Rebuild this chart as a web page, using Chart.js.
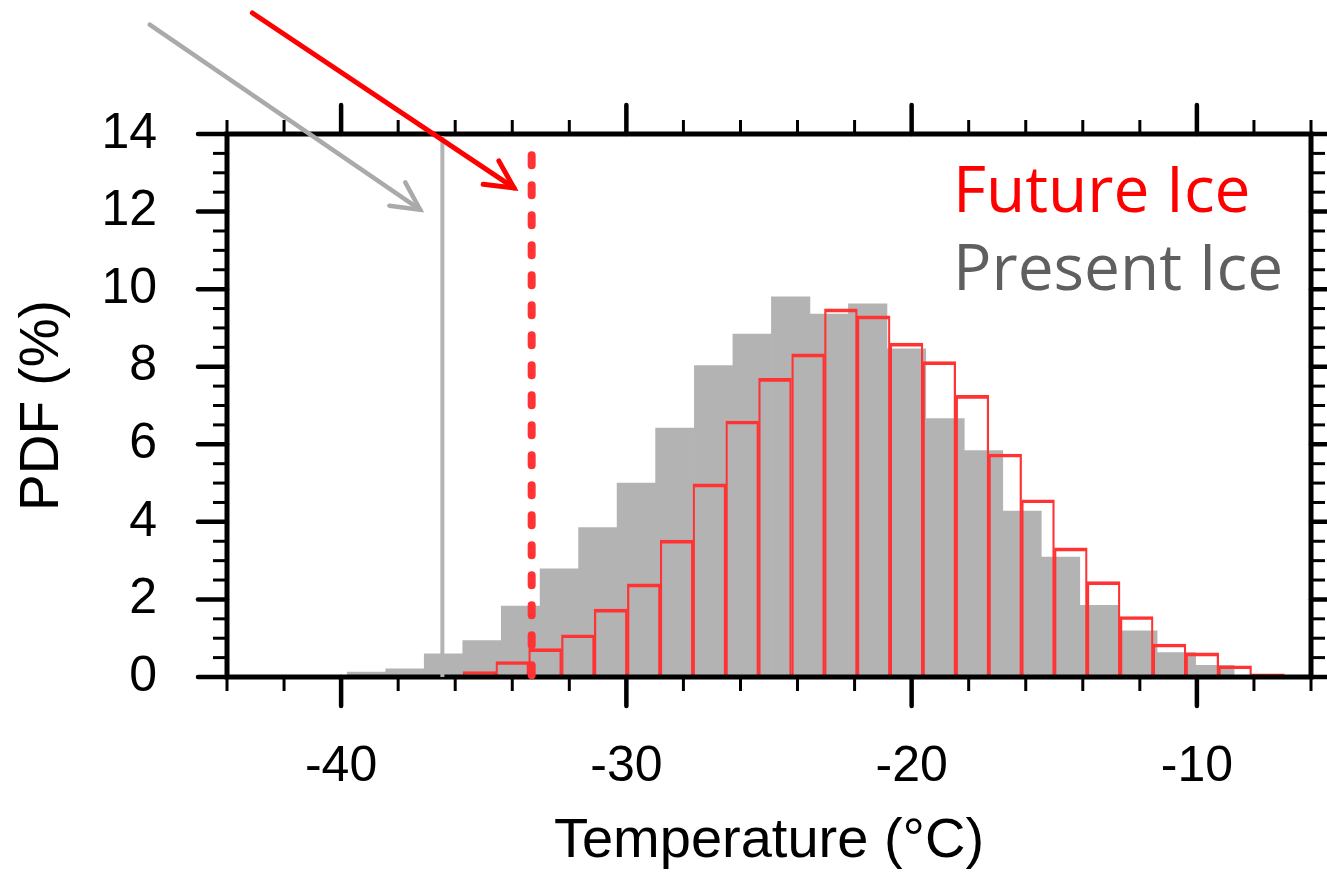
<!DOCTYPE html>
<html>
<head>
<meta charset="utf-8">
<script src="https://cdn.jsdelivr.net/npm/chart.js@4.4.1/dist/chart.umd.min.js"></script>
<style>
  html, body { margin: 0; padding: 0; background: #fff; }
</style>
</head>
<body>
<canvas id="pdfChart" width="1327" height="875"></canvas>
<script>
// bin centres (deg C) and PDF (%)
const presentCenters = [-39.11, -37.76, -36.41, -35.06, -33.71, -32.35, -31.00, -29.65,
  -28.30, -26.94, -25.59, -24.24, -22.89, -21.54, -20.18, -18.83, -17.48, -16.13,
  -14.78, -13.42, -12.07, -10.72, -9.37];
const presentPdf = [0.13, 0.21, 0.60, 0.94, 1.83, 2.79, 3.85, 5.00, 6.42, 8.03, 8.84,
  9.80, 9.36, 9.62, 8.46, 6.66, 5.84, 4.28, 3.09, 1.85, 1.19, 0.63, 0.30];

const futureCenters = [-35.15, -34.00, -32.85, -31.70, -30.55, -29.39, -28.24, -27.09,
  -25.94, -24.79, -23.63, -22.48, -21.33, -20.18, -19.03, -17.87, -16.72, -15.57,
  -14.42, -13.27, -12.11, -10.96, -9.81, -8.66, -7.51];
const futurePdf = [0.14, 0.40, 0.73, 1.09, 1.75, 2.40, 3.53, 4.98, 6.60, 7.70, 8.33,
  9.49, 9.31, 8.61, 8.13, 7.26, 5.75, 4.57, 3.33, 2.46, 1.56, 0.85, 0.62, 0.29, 0.08];

// threshold lines (deg C) and the top of the dashed one (%)
const presentThreshold = -36.45;
const futureThreshold = -33.32;
const futureLineTop = 13.45;

// arrows: [fromX, fromY, toX, toY] in data units
const presentArrow = [-46.71, 16.82, -37.23, 12.05];
const futureArrow = [-43.11, 17.12, -33.94, 12.61];

const legendLabels = ['Future Ice', 'Present Ice'];
const legendColors = ['#ff0000', '#5f5f5f'];

const GREY = '#b3b3b3';
const RED = '#ff3333';
const AXIS_FONT = '"Liberation Sans", Arial, Helvetica, sans-serif';

function segment(ctx, x0, y0, x1, y1) {
  ctx.beginPath();
  ctx.moveTo(x0, y0);
  ctx.lineTo(x1, y1);
  ctx.stroke();
}

function arrow(ctx, x, y, a, color, width) {
  const x0 = x.getPixelForValue(a[0]), y0 = y.getPixelForValue(a[1]);
  const x1 = x.getPixelForValue(a[2]), y1 = y.getPixelForValue(a[3]);
  const back = Math.atan2(y0 - y1, x0 - x1);
  const wing = 31, spread = 27 * Math.PI / 180;
  ctx.strokeStyle = color;
  ctx.lineWidth = width;
  ctx.lineCap = 'round';
  segment(ctx, x0, y0, x1, y1);
  ctx.beginPath();
  ctx.moveTo(x1 + wing * Math.cos(back + spread), y1 + wing * Math.sin(back + spread));
  ctx.lineTo(x1, y1);
  ctx.lineTo(x1 + wing * Math.cos(back - spread), y1 + wing * Math.sin(back - spread));
  ctx.stroke();
}

// keep tick labels from widening the layout margins
function noLabelPadding(s) {
  s.paddingLeft = 0;
  s.paddingRight = 0;
  s.paddingTop = 0;
  s.paddingBottom = 0;
}

const decorations = {
  id: 'decorations',
  afterDatasetsDraw(chart) {
    const {ctx, chartArea: a, scales: {x, y}} = chart;
    ctx.save();
    ctx.strokeStyle = '#000';
    ctx.lineWidth = 5;
    ctx.strokeRect(a.left, a.top, a.right - a.left, a.bottom - a.top);

    x.ticks.forEach(t => {
      const px = x.getPixelForValue(t.value);
      const major = t.value % 10 === 0;
      const len = major ? 29 : 14;
      ctx.lineWidth = major ? 4.5 : 3;
      ctx.lineCap = major ? 'round' : 'butt';
      segment(ctx, px, a.bottom, px, a.bottom + len);
      segment(ctx, px, a.top, px, a.top - len);
    });
    y.ticks.forEach(t => {
      const py = y.getPixelForValue(t.value);
      const major = t.value % 2 === 0;
      const len = major ? 29 : 14;
      ctx.lineWidth = major ? 4.5 : 3;
      ctx.lineCap = major ? 'round' : 'butt';
      segment(ctx, a.left, py, a.left - len, py);
      segment(ctx, a.right, py, a.right + len, py);
    });
    ctx.restore();
  },
  afterDraw(chart) {
    const {ctx, chartArea: a, scales: {x, y}} = chart;
    ctx.save();
    // present threshold (solid grey)
    ctx.strokeStyle = GREY;
    ctx.lineWidth = 4;
    segment(ctx, x.getPixelForValue(presentThreshold), a.top + 2,
      x.getPixelForValue(presentThreshold), y.getPixelForValue(0));
    // future threshold (dashed red)
    ctx.strokeStyle = RED;
    ctx.lineWidth = 8;
    ctx.lineCap = 'round';
    ctx.setLineDash([10, 20]);
    segment(ctx, x.getPixelForValue(futureThreshold), y.getPixelForValue(futureLineTop),
      x.getPixelForValue(futureThreshold), y.getPixelForValue(0));
    ctx.setLineDash([]);

    arrow(ctx, x, y, presentArrow, '#aaaaaa', 4.5);
    arrow(ctx, x, y, futureArrow, '#ff0000', 5);

    ctx.font = '64px "Open Sans", "Noto Sans", sans-serif';
    ctx.textAlign = 'left';
    ctx.textBaseline = 'alphabetic';
    legendLabels.forEach((txt, i) => {
      ctx.fillStyle = legendColors[i];
      ctx.fillText(txt, a.right - 358, a.top + 78 + i * 78);
    });
    ctx.restore();
  }
};

new Chart(document.getElementById('pdfChart'), {
  type: 'bar',
  data: {
    datasets: [
      {
        label: 'Present Ice',
        data: presentCenters.map((c, i) => ({x: c, y: presentPdf[i]})),
        xAxisID: 'x',
        backgroundColor: GREY,
        borderWidth: 0,
        barPercentage: 1,
        categoryPercentage: 1,
        grouped: false,
        order: 2
      },
      {
        label: 'Future Ice',
        data: futureCenters.map((c, i) => ({x: c, y: futurePdf[i]})),
        xAxisID: 'x2',
        backgroundColor: 'rgba(0,0,0,0)',
        borderColor: RED,
        borderWidth: {top: 3, left: 1.6, right: 1.6, bottom: 0},
        barPercentage: 1,
        categoryPercentage: 1,
        grouped: false,
        order: 1
      }
    ]
  },
  options: {
    responsive: false,
    animation: false,
    layout: {padding: {top: 134, right: 16, left: 0, bottom: 0}},
    plugins: {legend: {display: false}, tooltip: {enabled: false}},
    scales: {
      x: {
        type: 'linear',
        position: 'bottom',
        offset: false,
        min: -44,
        max: -6,
        afterFit: s => { s.height = 198; noLabelPadding(s); },
        grid: {display: false, drawTicks: false, offset: false},
        border: {display: false},
        ticks: {
          stepSize: 2,
          autoSkip: false,
          maxRotation: 0,
          padding: 60,
          color: '#000',
          font: {family: AXIS_FONT, size: 50},
          callback: v => (v % 10 === 0 ? String(v) : '')
        },
        title: {
          display: true,
          text: 'Temperature (°C)',
          color: '#000',
          font: {family: AXIS_FONT, size: 56},
          padding: {top: 0, bottom: 0}
        }
      },
      x2: {
        type: 'linear',
        position: 'bottom',
        display: false,
        offset: false,
        min: -44,
        max: -6,
        grid: {offset: false},
        ticks: {stepSize: 10}
      },
      y: {
        min: 0,
        max: 14,
        afterFit: s => { s.width = 227; noLabelPadding(s); },
        grid: {display: false, drawTicks: false},
        border: {display: false},
        ticks: {
          stepSize: 0.5,
          autoSkip: false,
          padding: 70,
          color: '#000',
          font: {family: AXIS_FONT, size: 50},
          callback: v => (v % 2 === 0 ? String(v) : '')
        },
        title: {
          display: true,
          text: 'PDF (%)',
          color: '#000',
          font: {family: AXIS_FONT, size: 55},
          padding: {top: 10, bottom: 0}
        }
      }
    }
  },
  plugins: [decorations]
});
</script>
</body>
</html>
